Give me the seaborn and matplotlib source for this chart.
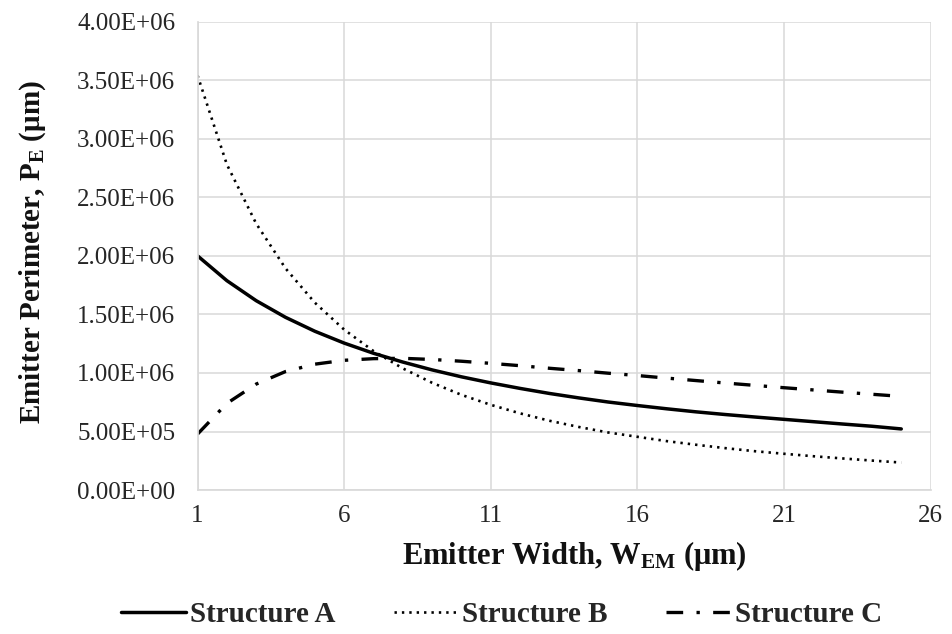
import matplotlib
matplotlib.use("Agg")
import matplotlib.pyplot as plt
import seaborn as sns
import pandas as pd
from matplotlib.ticker import FuncFormatter
from matplotlib.lines import Line2D

# ---- data ----
width_um = list(range(1, 26))
structure_a = [2.000, 1.788, 1.617, 1.475, 1.356, 1.255, 1.168, 1.093, 1.026, 0.967,
               0.915, 0.868, 0.825, 0.787, 0.752, 0.722, 0.694, 0.668, 0.645, 0.624,
               0.604, 0.584, 0.564, 0.545, 0.522]
structure_b = [3.540, 2.780, 2.275, 1.893, 1.600, 1.370, 1.187, 1.039, 0.916, 0.813,
               0.728, 0.655, 0.592, 0.539, 0.492, 0.455, 0.418, 0.387, 0.358, 0.332,
               0.310, 0.289, 0.270, 0.252, 0.235]
structure_c = [0.478, 0.740, 0.905, 1.012, 1.075, 1.108, 1.122, 1.125, 1.115, 1.100,
               1.082, 1.062, 1.040, 1.020, 0.998, 0.978, 0.956, 0.935, 0.914, 0.894,
               0.874, 0.855, 0.836, 0.818, 0.800]
scale = 1e6
series_names = ["Structure A", "Structure B", "Structure C"]
x_ticks = [1, 6, 11, 16, 21, 26]
y_ticks = [0, 0.5e6, 1.0e6, 1.5e6, 2.0e6, 2.5e6, 3.0e6, 3.5e6, 4.0e6]

rows = []
for name, vals in zip(series_names, [structure_a, structure_b, structure_c]):
    for x, v in zip(width_um, vals):
        rows.append({"W": x, "P": v * scale, "Series": name})
df = pd.DataFrame(rows)

sns.set_theme(style="white")
plt.rcParams["font.family"] = ["Liberation Serif", "DejaVu Serif"]
plt.rcParams["mathtext.fontset"] = "custom"
plt.rcParams["mathtext.rm"] = "Liberation Serif:bold"
plt.rcParams["mathtext.bf"] = "Liberation Serif:bold"
plt.rcParams["mathtext.it"] = "Liberation Serif:bold"

fig = plt.figure(figsize=(9.52, 6.34), dpi=100)
ax = fig.add_axes([0.2075, 0.227, 0.7700, 0.739])

dash_a = ""
dash_b = (0.9, 1.9)
dash_c = (5.0, 4.0, 1.0, 4.0)
dashes = {"Structure A": dash_a, "Structure B": dash_b, "Structure C": dash_c}
sizes = {"Structure A": 2.5, "Structure B": 1.9, "Structure C": 2.4}
sns.lineplot(data=df, x="W", y="P", hue="Series", style="Series",
             palette=["black", "black", "black"], dashes=dashes,
             size="Series", sizes=sizes, ax=ax, legend=False)

ax.set_xlim(1, 26)
ax.set_ylim(0, 4.0e6)
ax.set_xticks(x_ticks)
ax.set_yticks(y_ticks)
ax.yaxis.set_major_formatter(FuncFormatter(lambda v, p: f"{v:.2E}"))
ax.grid(True, color="#d9d9d9", linewidth=1.1)
for s in ax.spines.values():
    s.set_visible(False)
ax.spines["left"].set_visible(True)
ax.spines["left"].set_color("#d9d9d9")
ax.spines["bottom"].set_visible(True)
ax.spines["bottom"].set_color("#d9d9d9")
ax.tick_params(axis="both", length=0, labelsize=18, colors="#262626")
ax.tick_params(axis="y", pad=16)
ax.tick_params(axis="x", pad=11)

ax.set_xlabel("Emitter Width, W$_{\\mathrm{EM}}$ (μm)", fontsize=22,
              fontweight="bold", color="#111111")
ax.xaxis.set_label_coords(0.514, -0.105)
ax.set_ylabel("Emitter Perimeter, P$_{\\mathrm{E}}$ (μm)", fontsize=21,
              fontweight="bold", color="#111111")
ax.yaxis.set_label_coords(-0.204, 0.508)

handles = [
    Line2D([], [], color="black", lw=2.5),
    Line2D([], [], color="black", lw=1.9, dashes=dash_b),
    Line2D([], [], color="black", lw=2.4, dashes=dash_c),
]
fig.legend(handles, series_names, loc="center", bbox_to_anchor=(0.527, 0.03),
           ncol=3, frameon=False,
           prop={"family": "Liberation Serif", "weight": "bold", "size": 21},
           handlelength=2.2, handletextpad=0.15, columnspacing=2.0)

fig.savefig("out.png", dpi=100)
